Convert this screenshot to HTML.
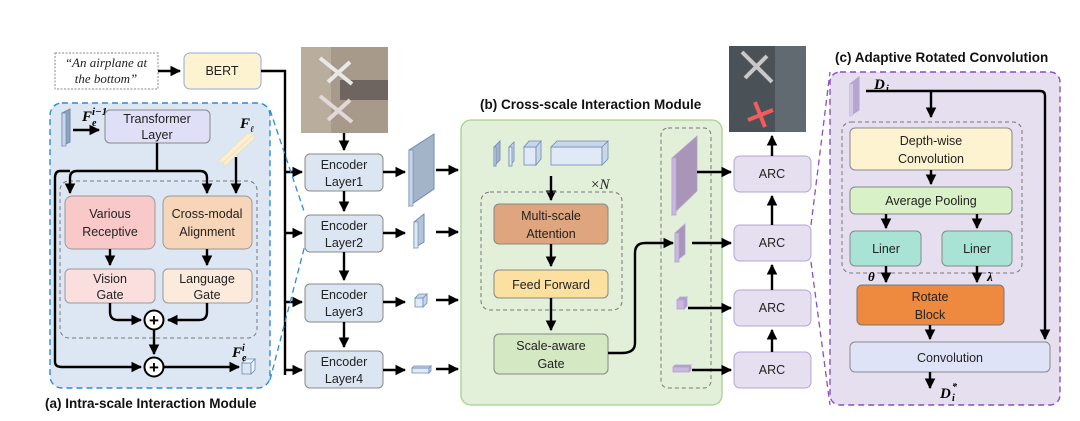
<!DOCTYPE html>
<html><head><meta charset="utf-8"><style>
body{margin:0;background:#fff}
svg{display:block;font-family:"Liberation Sans",sans-serif}
</style></head><body>
<svg width="1080" height="421" viewBox="0 0 1080 421" xmlns="http://www.w3.org/2000/svg">
<defs>
<marker id="a" viewBox="0 0 10 10" refX="9" refY="5" markerWidth="4.5" markerHeight="4.5" orient="auto"><path d="M0,0L10,5L0,10z" fill="#000"/></marker>
</defs>
<style>
.l{stroke:#000;stroke-width:2.4;fill:none}
.t{font-size:12.5px;fill:#222;text-anchor:middle}
</style>

<!-- quote + BERT -->
<rect x="55" y="53" width="103" height="36" fill="#fff" stroke="#888" stroke-dasharray="2,1.5"/>
<text x="106" y="67" font-family="Liberation Serif" font-style="italic" font-size="13" text-anchor="middle" fill="#222">“An airplane at</text>
<text x="106" y="83" font-family="Liberation Serif" font-style="italic" font-size="13" text-anchor="middle" fill="#222">the bottom”</text>
<path class="l" d="M158,71H180" marker-end="url(#a)"/>
<rect x="184" y="53" width="77" height="36" rx="6" fill="#fdf3d0" stroke="#8faadc"/>
<text x="222" y="75" class="t" font-size="13">BERT</text>
<path class="l" d="M261,71H285V375" />
<path class="l" d="M285,172H302" marker-end="url(#a)"/>
<path class="l" d="M285,233H302" marker-end="url(#a)"/>
<path class="l" d="M285,302H302" marker-end="url(#a)"/>
<path class="l" d="M285,370H302" marker-end="url(#a)"/>

<!-- panel a -->
<rect x="50" y="103" width="220" height="285" rx="12" fill="#dde7f3" stroke="#2e8bd6" stroke-width="1.4" stroke-dasharray="6,4"/>
<path d="M270,110L305,214M270,380L305,245" stroke="#2e8bd6" stroke-width="1.3" stroke-dasharray="6,4" fill="none"/>
<path d="M62,113l8,-4v33l-8,4z" fill="#8fa3bd" stroke="#6d8ab5"/><rect x="62" y="113" width="4" height="33" fill="#c8d6ea" stroke="#6d8ab5" stroke-width=".7"/>
<text x="82" y="121" font-family="Liberation Serif" font-weight="bold" font-style="italic" font-size="15">F</text>
<text x="92" y="115" font-family="Liberation Serif" font-weight="bold" font-style="italic" font-size="11">i−1</text>
<text x="92" y="126" font-family="Liberation Serif" font-weight="bold" font-style="italic" font-size="10">e</text>
<path class="l" d="M73,130H99" marker-end="url(#a)"/>
<rect x="105" y="110" width="105" height="33" rx="5" fill="#dfe0f7" stroke="#888"/>
<text x="157" y="123" class="t">Transformer</text><text x="157" y="139" class="t">Layer</text>
<text x="240" y="128" font-family="Liberation Serif" font-weight="bold" font-style="italic" font-size="15">F</text>
<text x="250" y="132" font-family="Liberation Serif" font-style="italic" font-size="9">ℓ</text>
<path d="M217,162l30,-28h7l-30,28z M224,162l30,-28v5l-30,28z" fill="#fbefd2" stroke="#e9dcb6" stroke-width=".6"/>
<rect x="60" y="181" width="197" height="157" rx="9" fill="none" stroke="#777" stroke-dasharray="4,3"/>
<path class="l" d="M157,143V171"/>
<path class="l" d="M157,171H77Q70,171 70,178V193" marker-end="url(#a)"/>
<path class="l" d="M157,171H200Q207,171 207,178V193" marker-end="url(#a)"/>
<path class="l" d="M236,157V193" marker-end="url(#a)"/>
<path class="l" d="M70,171H60Q55,171 55,178V362Q55,367 62,367H141" marker-end="url(#a)"/>
<rect x="65" y="196" width="90" height="53" rx="7" fill="#f9c9c9" stroke="#999"/>
<text x="110" y="218" class="t">Various</text><text x="110" y="236" class="t">Receptive</text>
<rect x="163" y="196" width="89" height="53" rx="7" fill="#f7d5b8" stroke="#999"/>
<text x="207" y="218" class="t">Cross-modal</text><text x="207" y="236" class="t">Alignment</text>
<path class="l" d="M110,249V265" marker-end="url(#a)"/><path class="l" d="M207,249V265" marker-end="url(#a)"/>
<rect x="65" y="269" width="90" height="34" rx="5" fill="#fbdede" stroke="#999"/>
<text x="110" y="283" class="t">Vision</text><text x="110" y="299" class="t">Gate</text>
<rect x="163" y="269" width="89" height="34" rx="5" fill="#fcebdc" stroke="#999"/>
<text x="207" y="283" class="t">Language</text><text x="207" y="299" class="t">Gate</text>
<path class="l" d="M110,303V312Q110,320 118,320H141" marker-end="url(#a)"/>
<path class="l" d="M207,303V312Q207,320 199,320H168" marker-end="url(#a)"/>
<path class="l" d="M154,330V354" marker-end="url(#a)"/>
<circle cx="154" cy="320" r="9.5" fill="#fff" stroke="#000" stroke-width="2"/><text x="154" y="326" text-anchor="middle" font-size="17" font-weight="bold">+</text>
<circle cx="154" cy="367" r="9.5" fill="#fff" stroke="#000" stroke-width="2"/><text x="154" y="373" text-anchor="middle" font-size="17" font-weight="bold">+</text>
<path class="l" d="M164,367H239" marker-end="url(#a)"/>
<path d="M242,363h9v11h-9z" fill="#dce6f2" stroke="#6d8ab5" stroke-width=".8"/><path d="M242,363l4,-4h9l-4,4zM251,363l4,-4v11l-4,4z" fill="#eef3fa" stroke="#6d8ab5" stroke-width=".8"/>
<text x="232" y="357" font-family="Liberation Serif" font-weight="bold" font-style="italic" font-size="15">F</text>
<text x="242" y="351" font-family="Liberation Serif" font-weight="bold" font-style="italic" font-size="10">i</text>
<text x="242" y="361" font-family="Liberation Serif" font-weight="bold" font-style="italic" font-size="10">e</text>
<text x="45" y="408" font-size="13.5" font-weight="bold" fill="#111">(a) Intra-scale Interaction Module</text>

<!-- photo 1 -->
<rect x="301" y="47" width="87" height="86" fill="#a89a8a"/>
<rect x="301" y="47" width="30" height="86" fill="#b9ad9e"/>
<rect x="340" y="80" width="48" height="20" fill="#6e6560"/>
<path d="M320,58l32,26M328,82l22,-20" stroke="#e8e8e8" stroke-width="4"/>
<path d="M320,96l32,26M328,120l22,-20" stroke="#e3d8d8" stroke-width="4"/>
<path class="l" d="M344,133V150" marker-end="url(#a)"/>

<!-- encoders -->
<g fill="#dce6f2" stroke="#888">
<rect x="305" y="154" width="78" height="37" rx="5"/><rect x="305" y="215" width="78" height="37" rx="5"/>
<rect x="305" y="284" width="78" height="38" rx="5"/><rect x="305" y="351" width="78" height="37" rx="5"/></g>
<text x="344" y="169" class="t">Encoder</text><text x="344" y="186" class="t">Layer1</text>
<text x="344" y="230" class="t">Encoder</text><text x="344" y="247" class="t">Layer2</text>
<text x="344" y="299" class="t">Encoder</text><text x="344" y="316" class="t">Layer3</text>
<text x="344" y="366" class="t">Encoder</text><text x="344" y="383" class="t">Layer4</text>
<path class="l" d="M344,191V211" marker-end="url(#a)"/><path class="l" d="M344,252V280" marker-end="url(#a)"/><path class="l" d="M344,322V347" marker-end="url(#a)"/>
<path class="l" d="M383,172H405" marker-end="url(#a)"/><path class="l" d="M383,233H405" marker-end="url(#a)"/><path class="l" d="M383,302H405" marker-end="url(#a)"/><path class="l" d="M383,370H405" marker-end="url(#a)"/>
<path d="M409,150l25,-16v55l-25,17z" fill="#a3b4c9" stroke="#6d8ab5"/><rect x="409" y="150" width="4" height="56" fill="#c8d6ea" stroke="#6d8ab5" stroke-width=".7"/>
<path d="M414,222l10,-8v28l-10,6z" fill="#b2c4da" stroke="#6d8ab5"/><rect x="414" y="222" width="4" height="26" fill="#e0e9f5" stroke="#6d8ab5" stroke-width=".7"/>
<path d="M415,298h8v9h-8z" fill="#e0e9f5" stroke="#6d8ab5" stroke-width=".8"/><path d="M415,298l4,-4h8l-4,4zM423,298l4,-4v9l-4,4z" fill="#c8d6ea" stroke="#6d8ab5" stroke-width=".8"/>
<path d="M412,368h17v5h-17z" fill="#e0e9f5" stroke="#6d8ab5" stroke-width=".8"/><path d="M412,368l2,-2h17l-2,2zM429,368l2,-2v5l-2,2z" fill="#c8d6ea" stroke="#6d8ab5" stroke-width=".8"/>
<path class="l" d="M436,170H458" marker-end="url(#a)"/><path class="l" d="M436,232H458" marker-end="url(#a)"/><path class="l" d="M436,300H458" marker-end="url(#a)"/><path class="l" d="M436,369H458" marker-end="url(#a)"/>

<!-- panel b -->
<text x="480" y="109" font-size="13.5" font-weight="bold" fill="#111">(b) Cross-scale Interaction Module</text>
<rect x="461" y="120" width="261" height="285" rx="10" fill="#e2efd9" stroke="#a9d18e" stroke-width="1.3"/>
<g stroke="#6d8ab5" stroke-width=".8">
<path d="M494,147l6,-6v19l-6,6z" fill="#a3b4c9"/><rect x="494" y="147" width="2" height="19" fill="#c8d6ea"/>
<path d="M509,147l5,-5v19l-5,5z" fill="#c8d6ea"/><rect x="509" y="147" width="3" height="19" fill="#e0e9f5"/>
<rect x="524" y="147" width="12" height="18" fill="#e0e9f5"/><path d="M524,147l5,-6h12l-5,6zM536,147l5,-6v18l-5,6z" fill="#c8d6ea"/>
<rect x="551" y="147" width="51" height="18" fill="#e0e9f5"/><path d="M551,147l6,-6h51l-6,6zM602,147l6,-6v18l-6,6z" fill="#c8d6ea"/></g>
<path class="l" d="M551,176V200" marker-end="url(#a)"/>
<rect x="481" y="192" width="141" height="118" rx="9" fill="none" stroke="#777" stroke-dasharray="4,3"/>
<text x="591" y="189" font-family="Liberation Serif" font-size="15" fill="#222">×<tspan font-style="italic">N</tspan></text>
<rect x="494" y="204" width="114" height="40" rx="5" fill="#dfa57e" stroke="#888"/>
<text x="551" y="220" class="t">Multi-scale</text><text x="551" y="238" class="t">Attention</text>
<path class="l" d="M551,244V266" marker-end="url(#a)"/>
<rect x="494" y="270" width="114" height="28" rx="5" fill="#fbe0a0" stroke="#888"/>
<text x="551" y="289" class="t">Feed Forward</text>
<path class="l" d="M551,298V330" marker-end="url(#a)"/>
<rect x="494" y="334" width="114" height="40" rx="5" fill="#d5e8c4" stroke="#888"/>
<text x="551" y="350" class="t">Scale-aware</text><text x="551" y="368" class="t">Gate</text>
<path class="l" d="M608,353H622Q635,353 635,343V253Q635,243 645,243H673" marker-end="url(#a)"/>
<rect x="661" y="128" width="50" height="260" rx="7" fill="none" stroke="#777" stroke-dasharray="4,3"/>
<g stroke="#b4a3d4" stroke-width=".8">
<path d="M672,158l25,-22v55l-25,24z" fill="#a895b8"/><rect x="672" y="158" width="4" height="57" fill="#c9b7dd"/>
<path d="M675,233l10,-9v30l-10,8z" fill="#a895b8"/><rect x="675" y="233" width="4" height="29" fill="#c9b7dd"/>
<rect x="677" y="300" width="7" height="9" fill="#c9b7dd"/><path d="M677,300l3,-3h7l-3,3zM684,300l3,-3v9l-3,3z" fill="#b09fcb"/>
<rect x="673" y="367" width="16" height="5" fill="#c9b7dd"/><path d="M673,367l2,-2h16l-2,2zM689,367l2,-2v5l-2,2z" fill="#b09fcb"/></g>
<path class="l" d="M697,172H731" marker-end="url(#a)"/><path class="l" d="M692,243H731" marker-end="url(#a)"/>
<path class="l" d="M688,308H731" marker-end="url(#a)"/><path class="l" d="M692,370H731" marker-end="url(#a)"/>

<!-- ARC -->
<g fill="#e6dff0" stroke="#b4a3d4">
<rect x="734" y="156" width="77" height="36" rx="6"/><rect x="734" y="225" width="77" height="36" rx="6"/>
<rect x="734" y="290" width="77" height="36" rx="6"/><rect x="734" y="352" width="77" height="36" rx="6"/></g>
<text x="772" y="178" class="t">ARC</text><text x="772" y="247" class="t">ARC</text><text x="772" y="312" class="t">ARC</text><text x="772" y="374" class="t">ARC</text>
<path class="l" d="M772,352V330" marker-end="url(#a)"/><path class="l" d="M772,290V265" marker-end="url(#a)"/><path class="l" d="M772,225V196" marker-end="url(#a)"/><path class="l" d="M772,156V136" marker-end="url(#a)"/>
<rect x="729" y="46" width="77" height="86" fill="#4a5258"/>
<rect x="775" y="46" width="31" height="86" fill="#606a70"/>
<path d="M742,52l30,30M745,78l22,-22" stroke="#c8c8c8" stroke-width="4"/>
<path d="M755,102l10,25M748,120l25,-10" stroke="#f25c5c" stroke-width="4"/>
<path d="M811,225L830,72M811,262L830,405" stroke="#8a4fc1" stroke-width="1.3" stroke-dasharray="6,4" fill="none"/>

<!-- panel c -->
<text x="835" y="62" font-size="13.5" font-weight="bold" fill="#111">(c) Adaptive Rotated Convolution</text>
<rect x="830" y="72" width="230" height="333" rx="10" fill="#e5dff0" stroke="#8a4fc1" stroke-width="1.4" stroke-dasharray="6,4"/>
<path d="M850,84l9,-7v33l-9,6z" fill="#b8a5cd" stroke="#b4a3d4"/><rect x="850" y="84" width="3" height="32" fill="#d5c7e6"/>
<text x="874" y="89" font-family="Liberation Serif" font-weight="bold" font-style="italic" font-size="15">D</text>
<text x="886" y="92" font-family="Liberation Serif" font-weight="bold" font-style="italic" font-size="10">i</text>
<path class="l" d="M866,91H1040Q1045,91 1045,96V339" marker-end="url(#a)"/>
<path class="l" d="M931,91V117" marker-end="url(#a)"/>
<rect x="842" y="122" width="180" height="151" rx="9" fill="none" stroke="#777" stroke-dasharray="4,3"/>
<rect x="850" y="128" width="162" height="42" rx="5" fill="#fdf3d0" stroke="#888"/>
<text x="931" y="145" class="t">Depth-wise</text><text x="931" y="163" class="t">Convolution</text>
<path class="l" d="M931,170V184" marker-end="url(#a)"/>
<rect x="850" y="187" width="162" height="27" rx="5" fill="#d9f1c6" stroke="#888"/>
<text x="931" y="205" class="t">Average Pooling</text>
<path class="l" d="M886,214V228" marker-end="url(#a)"/><path class="l" d="M977,214V228" marker-end="url(#a)"/>
<rect x="850" y="231" width="71" height="35" rx="5" fill="#a8e3d5" stroke="#888"/><text x="886" y="253" class="t">Liner</text>
<rect x="942" y="231" width="70" height="35" rx="5" fill="#a8e3d5" stroke="#888"/><text x="977" y="253" class="t">Liner</text>
<path class="l" d="M886,266V282" marker-end="url(#a)"/><path class="l" d="M977,266V282" marker-end="url(#a)"/>
<text x="868" y="281" font-family="Liberation Serif" font-weight="bold" font-style="italic" font-size="13">θ</text>
<text x="987" y="281" font-family="Liberation Serif" font-weight="bold" font-style="italic" font-size="13">λ</text>
<rect x="857" y="285" width="147" height="40" rx="5" fill="#ed8a3f" stroke="#777"/>
<text x="930" y="301" class="t">Rotate</text><text x="930" y="319" class="t">Block</text>
<path class="l" d="M930,325V339" marker-end="url(#a)"/>
<rect x="850" y="342" width="200" height="30" rx="5" fill="#dfe3f7" stroke="#888"/>
<text x="950" y="362" class="t">Convolution</text>
<path class="l" d="M930,372V388" marker-end="url(#a)"/>
<text x="940" y="398" font-family="Liberation Serif" font-weight="bold" font-style="italic" font-size="15">D</text>
<text x="952" y="390" font-family="Liberation Serif" font-weight="bold" font-style="italic" font-size="10">*</text>
<text x="952" y="401" font-family="Liberation Serif" font-weight="bold" font-style="italic" font-size="10">i</text>
</svg>
</body></html>
